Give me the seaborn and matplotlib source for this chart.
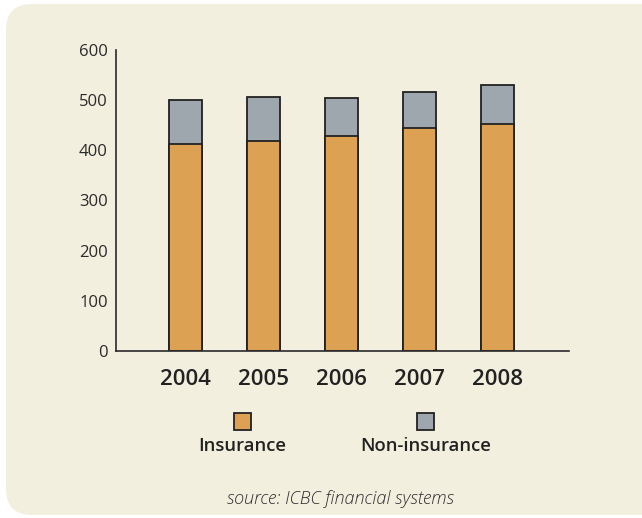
import matplotlib
matplotlib.use("Agg")
import matplotlib.pyplot as plt
import seaborn as sns
import pandas as pd
from matplotlib.patches import FancyBboxPatch, Rectangle

# Values
years = ["2004", "2005", "2006", "2007", "2008"]
insurance = [413, 419, 428, 445, 452]
non_insurance = [88, 88, 76, 71, 79]
y_ticks = [0, 100, 200, 300, 400, 500, 600]

df = pd.DataFrame({"year": years, "insurance": insurance, "non_insurance": non_insurance})
df["total"] = df["insurance"] + df["non_insurance"]

# Colours
cream = "#f3efdf"
orange = "#dca152"
grey = "#9ea7ae"
edge = "#222222"

sns.set_theme(style="white")
plt.rcParams["font.family"] = ["Open Sans", "DejaVu Sans"]

fig = plt.figure(figsize=(6.42, 5.18), dpi=100, facecolor="white")

# rounded cream panel behind everything (pixel coords)
panel = FancyBboxPatch((6, 3), 660, 511, boxstyle="round,pad=0,rounding_size=26",
                       transform=None, facecolor=cream, edgecolor="none", zorder=-10)
fig.patches.append(panel)

ax = fig.add_axes([0.1807, 0.3224, 0.7061, 0.5811])
ax.set_facecolor("none")
ax.set_zorder(5)

# stacked bars: total (grey) first, insurance (orange) on top of it
sns.barplot(data=df, x="year", y="total", color=grey, width=0.42,
            edgecolor=edge, linewidth=1.3, saturation=1, ax=ax)
sns.barplot(data=df, x="year", y="insurance", color=orange, width=0.42,
            edgecolor=edge, linewidth=1.3, saturation=1, ax=ax)

ax.set_ylim(0, 600)
ax.set_xlim(-0.89, 4.92)
ax.set_yticks(y_ticks)
ax.set_xlabel("")
ax.set_ylabel("")

for s in ["top", "right"]:
    ax.spines[s].set_visible(False)
for s in ["left", "bottom"]:
    ax.spines[s].set_color("#2a2a2a")
    ax.spines[s].set_linewidth(1.2)

ax.tick_params(axis="y", length=0, pad=6, labelsize=12, labelcolor="#2a2a2a")
ax.tick_params(axis="x", length=0, pad=13, labelsize=16, labelcolor="#222222")
for lab in ax.get_xticklabels():
    lab.set_fontweight("semibold")

# legend: squares above labels
for cx, name, col in [(242, "Insurance", orange), (425.5, "Non-insurance", grey)]:
    sq = Rectangle((cx / 642 - 8.5 / 642, 1 - 429.5 / 518), 17 / 642, 17 / 518,
                   transform=fig.transFigure, facecolor=col, edgecolor=edge,
                   linewidth=1.3, zorder=6)
    fig.patches.append(sq)
    fig.text(cx / 642, 1 - 446 / 518, name, ha="center", va="center",
             fontsize=13.3, fontweight="semibold", color="#222222")

fig.text(340 / 642, 1 - 499 / 518, "source: ICBC financial systems",
         ha="center", va="center", fontsize=13, style="italic",
         fontweight="light", color="#2e2e2e")

fig.savefig("out.png", dpi=100, facecolor="white")
